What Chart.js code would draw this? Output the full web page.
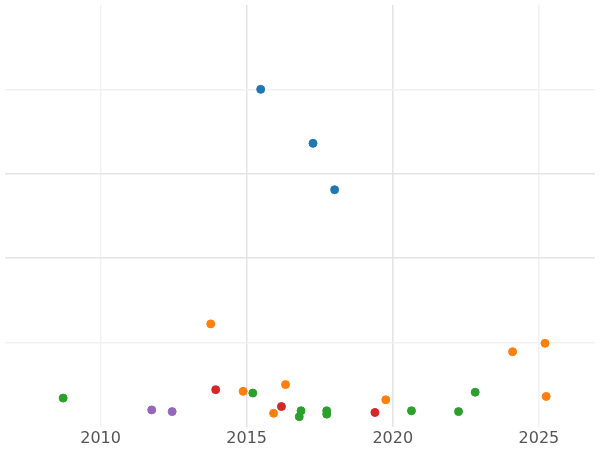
<!DOCTYPE html>
<html>
<head>
<meta charset="utf-8">
<script src="https://cdn.jsdelivr.net/npm/chart.js@4"></script>
<style>
  html, body { margin: 0; padding: 0; background: #fff; }
  #wrap { width: 600px; height: 450px; }
</style>
</head>
<body>
<div id="wrap"><canvas id="chart"></canvas></div>
<script>
// series: [year, value]
const seriesNames = ['blue', 'orange', 'green', 'red', 'purple'];
const seriesColors = ['#1f77b4', '#ff7f0e', '#2ca02c', '#d62728', '#9467bd'];
const blueX = [2015.48, 2017.27, 2018.01];
const blueY = [4.00, 3.36, 2.81];
const orangeX = [2013.77, 2014.88, 2015.92, 2016.33, 2019.76, 2024.10, 2025.21, 2025.25];
const orangeY = [1.22, 0.42, 0.16, 0.50, 0.32, 0.89, 0.99, 0.36];
const greenX = [2008.72, 2015.21, 2016.86, 2016.80, 2017.74, 2017.74, 2020.64, 2022.25, 2022.82];
const greenY = [0.34, 0.40, 0.19, 0.12, 0.19, 0.15, 0.19, 0.18, 0.41];
const redX = [2013.94, 2016.19, 2019.39];
const redY = [0.44, 0.24, 0.17];
const purpleX = [2011.75, 2012.45];
const purpleY = [0.20, 0.18];
const xTicks = [2010, 2015, 2020, 2025];

const allX = [blueX, orangeX, greenX, redX, purpleX];
const allY = [blueY, orangeY, greenY, redY, purpleY];

const datasets = seriesNames.map((name, i) => ({
    label: name,
    data: allX[i].map((x, j) => ({ x: x, y: allY[i][j] })),
    backgroundColor: seriesColors[i],
    borderColor: seriesColors[i],
    pointRadius: 4,
    pointHoverRadius: 4
}));

new Chart(document.getElementById('chart'), {
    type: 'scatter',
    data: { datasets: datasets },
    options: {
        responsive: true,
        maintainAspectRatio: false,
        animation: false,
        layout: { padding: { left: -5, right: -5, top: -5, bottom: 0 } },
        plugins: { legend: { display: false }, tooltip: { enabled: false } },
        scales: {
            x: {
                min: 2006.73,
                max: 2026.92,
                afterBuildTicks: axis => { axis.ticks = xTicks.map(v => ({ value: v })); },
                border: { display: false },
                grid: {
                    color: ctx => (ctx.tick && (ctx.tick.value === 2015 || ctx.tick.value === 2020)) ? '#e4e4e4' : '#f1f1f1',
                    lineWidth: 1.5,
                    drawTicks: false
                },
                ticks: {
                    color: '#555',
                    font: { family: 'DejaVu Sans', size: 16 },
                    padding: 2,
                    maxRotation: 0,
                    callback: v => String(v)
                }
            },
            y: {
                min: 0,
                max: 5,
                border: { display: false },
                grid: {
                    color: ctx => (ctx.tick && (ctx.tick.value === 2 || ctx.tick.value === 3)) ? '#e4e4e4' : (ctx.tick && (ctx.tick.value === 0 || ctx.tick.value === 5) ? 'rgba(0,0,0,0)' : '#f1f1f1'),
                    lineWidth: 1.5,
                    drawTicks: false
                },
                ticks: { display: false, stepSize: 1 }
            }
        }
    }
});
</script>
</body>
</html>
